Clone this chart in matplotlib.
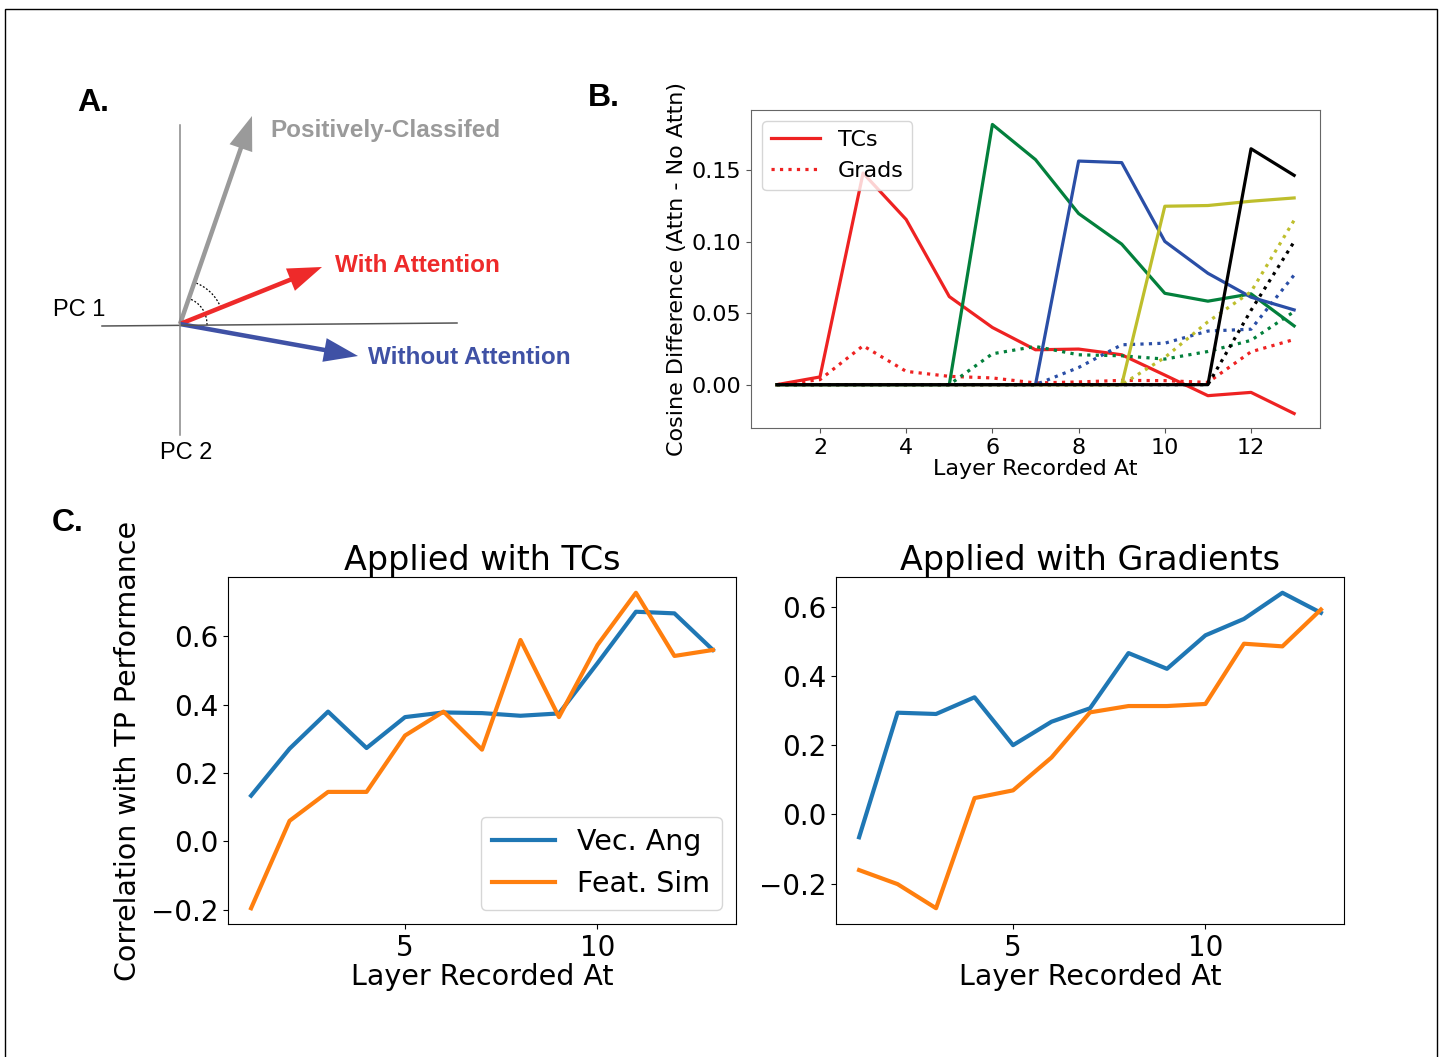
import numpy as np
import matplotlib
matplotlib.use("Agg")
import matplotlib.pyplot as plt
from matplotlib.patches import Arc, Rectangle

# ---- panel B: cosine difference per layer (attention applied at each layer)
layers = np.arange(1, 14)

tc_red = [0, 0.0054, 0.148, 0.1155, 0.0616, 0.040, 0.0244, 0.0249, 0.0209, 0.0067, -0.0077, -0.0054, -0.0202]
grad_red = [0, 0.0035, 0.0272, 0.0093, 0.0058, 0.0047, 0.0012, 0.0019, 0.0030, 0.0028, 0.0016, 0.0230, 0.0316]
tc_green = [0, 0, 0, 0, 0, 0.182, 0.1574, 0.1197, 0.0983, 0.0639, 0.0584, 0.0635, 0.0411]
grad_green = [0, 0, 0, 0, 0, 0.0216, 0.0267, 0.0209, 0.0202, 0.0179, 0.0232, 0.0310, 0.0511]
tc_blue = [0, 0, 0, 0, 0, 0, 0, 0.1564, 0.1553, 0.1002, 0.0779, 0.0612, 0.0523]
grad_blue = [0, 0, 0, 0, 0, 0, 0, 0.0120, 0.0279, 0.0290, 0.0375, 0.0388, 0.0767]
tc_olive = [0, 0, 0, 0, 0, 0, 0, 0, 0, 0.1248, 0.1253, 0.1283, 0.1306]
grad_olive = [0, 0, 0, 0, 0, 0, 0, 0, 0, 0.0190, 0.0440, 0.0650, 0.1150]
tc_black = [0, 0, 0, 0, 0, 0, 0, 0, 0, 0, 0, 0.165, 0.1464]
grad_black = [0, 0, 0, 0, 0, 0, 0, 0, 0, 0, 0, 0.052, 0.100]

# ---- panel C: correlation with TP performance
vec_ang_tc = [0.134, 0.2715, 0.380, 0.2735, 0.364, 0.3776, 0.3757, 0.3679, 0.3747, 0.5217, 0.6725, 0.6677, 0.5606]
feat_sim_tc = [-0.1956, 0.0603, 0.145, 0.145, 0.310, 0.380, 0.2686, 0.5898, 0.364, 0.575, 0.728, 0.543, 0.5606]
vec_ang_grad = [-0.066, 0.2947, 0.291, 0.3394, 0.2007, 0.2686, 0.3075, 0.4674, 0.4218, 0.5188, 0.5663, 0.642, 0.584]
feat_sim_grad = [-0.161, -0.2017, -0.2715, 0.0475, 0.0698, 0.165, 0.2957, 0.314, 0.314, 0.320, 0.4945, 0.4868, 0.5935]

# ---- panel A: schematic vectors in PC1/PC2 plane (origin at 0, 0)
vec_names = ["Positively-Classifed", "With Attention", "Without Attention"]
vec_tips = [(72, 208), (142, 57), (178, -32)]
vec_colors = ["#9a9a9a", "#ee2a2a", "#3f51a5"]
label_pos = [(90, 193), (155, 59), (188, -34)]

W, H = 1443, 1057
fig = plt.figure(figsize=(W / 100, H / 100), dpi=100)

# outer frame
fig.patches.append(Rectangle((5 / W, -0.05), 1432 / W, 1 - 9 / H + 0.05,
                             transform=fig.transFigure, fill=False,
                             ec="black", lw=1.0))

# ---------------- A ----------------
axA = fig.add_axes([40 / W, 1 - 480 / H, 560 / W, 400 / H])
axA.set_xlim(-140, 420)
axA.set_ylim(-156, 244)
axA.axis("off")
axA.plot([-78, 277], [-2, 1], color="#555555", lw=1.1)
axA.plot([0, 0], [-111, 199], color="#888888", lw=1.1)

angles = [np.degrees(np.arctan2(y, x)) for x, y in vec_tips]
axA.add_patch(Arc((0, 0), 88, 88, theta1=angles[1], theta2=angles[0],
                  ls=(0, (1.5, 1.5)), lw=0.9, color="black"))
axA.add_patch(Arc((0, 0), 54, 54, theta1=-2, theta2=angles[0],
                  ls=(0, (1.5, 1.5)), lw=0.9, color="black"))

for name, (tx, ty), col, (lx, ly) in zip(vec_names, vec_tips, vec_colors, label_pos):
    axA.arrow(0, 0, tx, ty, width=4.5, head_width=24, head_length=34,
              length_includes_head=True, color=col, lw=0)
    axA.text(lx, ly, name, color=col, fontsize=17.5, fontweight="bold",
             family="Liberation Sans", va="center", ha="left")

axA.text(-127, 14, "PC 1", fontsize=17, family="Liberation Sans", va="center")
axA.text(-20, -129, "PC 2", fontsize=17, family="Liberation Sans", va="center")

for letter, x, y in [("A.", 77, 103), ("B.", 588, 98), ("C.", 52, 523)]:
    fig.text(x / W, 1 - y / H, letter, fontsize=23, fontweight="bold",
             family="Liberation Sans", va="center", ha="left")

# ---------------- B ----------------
axB = fig.add_axes([751 / W, 1 - 428 / H, 569 / W, 318 / H])
pairs = [(tc_red, grad_red, "#ee2222"),
         (tc_green, grad_green, "#03803c"),
         (tc_blue, grad_blue, "#2a4ea6"),
         (tc_olive, grad_olive, "#bebe2c"),
         (tc_black, grad_black, "black")]
for i, (tc, gr, col) in enumerate(pairs):
    axB.plot(layers, tc, color=col, lw=2.3, label="TCs" if i == 0 else None)
    axB.plot(layers, gr, color=col, lw=2.3, ls=":", label="Grads" if i == 0 else None)
axB.set_xticks([2, 4, 6, 8, 10, 12])
axB.set_yticks([0.0, 0.05, 0.10, 0.15])
axB.yaxis.set_major_formatter(matplotlib.ticker.FormatStrFormatter("%.2f"))
axB.tick_params(labelsize=16, color="#555555")
axB.set_xlabel("Layer Recorded At", fontsize=16, labelpad=1)
axB.set_ylabel("Cosine Difference (Attn - No Attn)", fontsize=16, labelpad=3)
for s in axB.spines.values():
    s.set_color("#666666")
axB.legend(loc="upper left", fontsize=16, handlelength=2.2)

# ---------------- C ----------------
axC1 = fig.add_axes([228 / W, 1 - 924 / H, 508 / W, 347 / H])
axC2 = fig.add_axes([836 / W, 1 - 924 / H, 508 / W, 347 / H])
for ax, va, fs, title in [(axC1, vec_ang_tc, feat_sim_tc, "Applied with TCs"),
                          (axC2, vec_ang_grad, feat_sim_grad, "Applied with Gradients")]:
    ax.plot(layers, va, color="#1f77b4", lw=3, label="Vec. Ang")
    ax.plot(layers, fs, color="#ff7f0e", lw=3, label="Feat. Sim")
    ax.set_xticks([5, 10])
    ax.set_yticks([-0.2, 0.0, 0.2, 0.4, 0.6])
    ax.tick_params(labelsize=20)
    ax.set_xlabel("Layer Recorded At", fontsize=20.5, labelpad=1)
    ax.set_title(title, fontsize=24, pad=5)

axC1.set_ylabel("Correlation with TP Performance", fontsize=20.5, labelpad=6)
axC1.legend(loc="lower right", fontsize=20.5, handlelength=2.2)

fig.savefig("out.png", dpi=100)
